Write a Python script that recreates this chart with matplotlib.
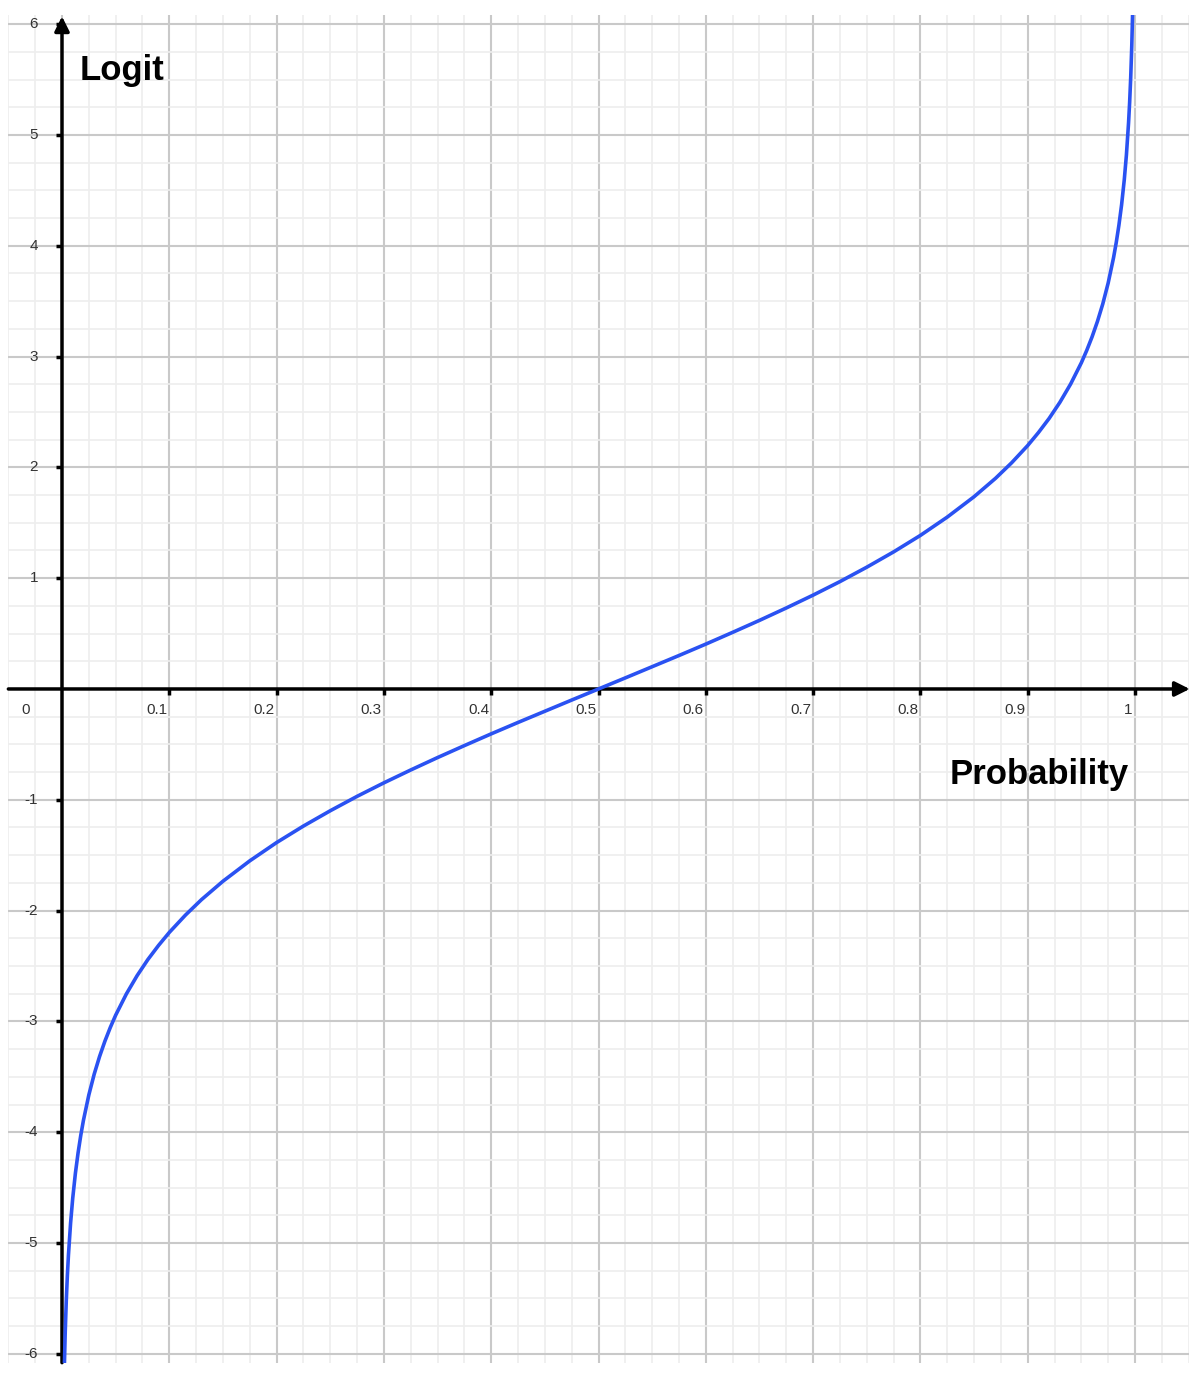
import numpy as np
import matplotlib
matplotlib.use("Agg")
import matplotlib.pyplot as plt
from matplotlib.ticker import MultipleLocator

# points (moitié gauche, la droite est symétrique)
prob_left = [0.0023, 0.003, 0.004, 0.005, 0.006, 0.008, 0.01, 0.0125, 0.015,
             0.0175, 0.02, 0.025, 0.03, 0.035, 0.04, 0.045, 0.05, 0.06, 0.07,
             0.08, 0.09, 0.1, 0.115, 0.13, 0.15, 0.175, 0.2, 0.225, 0.25,
             0.275, 0.3, 0.325, 0.35, 0.375, 0.4, 0.425, 0.45, 0.475, 0.5]
logit_left = [-6.073, -5.806, -5.517, -5.293, -5.110, -4.820, -4.595, -4.369,
              -4.185, -4.028, -3.892, -3.664, -3.476, -3.317, -3.178, -3.055,
              -2.944, -2.752, -2.587, -2.442, -2.314, -2.197, -2.041, -1.901,
              -1.735, -1.551, -1.386, -1.237, -1.099, -0.969, -0.847, -0.731,
              -0.619, -0.511, -0.405, -0.302, -0.201, -0.100, 0.0]

x_ticks = [0.1, 0.2, 0.3, 0.4, 0.5, 0.6, 0.7, 0.8, 0.9, 1.0]
x_labels = ["0.1", "0.2", "0.3", "0.4", "0.5", "0.6", "0.7", "0.8", "0.9", "1"]
y_ticks = [-6, -5, -4, -3, -2, -1, 1, 2, 3, 4, 5, 6]
y_labels = ["-6", "-5", "-4", "-3", "-2", "-1", "1", "2", "3", "4", "5", "6"]

# courbe complète
prob = np.concatenate([prob_left, 1 - np.array(prob_left[-2::-1])])
logit = np.concatenate([logit_left, -np.array(logit_left[-2::-1])])

plt.rcParams['font.family'] = ['Liberation Sans', 'DejaVu Sans']

fig = plt.figure(figsize=(12, 13.8), dpi=100)
ax = fig.add_axes([8.35 / 1200, 0.01254, 1180.3 / 1200, 0.9764])
ax.set_xlim(-0.05, 1.05)
ax.set_ylim(-6.08, 6.08)

# grille
ax.xaxis.set_major_locator(MultipleLocator(0.1))
ax.xaxis.set_minor_locator(MultipleLocator(0.025))
ax.yaxis.set_major_locator(MultipleLocator(1))
ax.yaxis.set_minor_locator(MultipleLocator(0.25))
ax.grid(True, which='minor', color='#eeeeee', lw=1.2)
ax.grid(True, which='major', color='#c9c9c9', lw=1.5)
ax.set_axisbelow(True)
ax.tick_params(which='both', length=0, labelbottom=False, labelleft=False)
for s in ax.spines.values():
    s.set_visible(False)

# axes avec flèches
ax.annotate('', xy=(1.051, 0), xytext=(-0.05, 0), annotation_clip=False,
            arrowprops=dict(arrowstyle='-|>', lw=2.5, color='black',
                            mutation_scale=22, shrinkA=0, shrinkB=0))
ax.annotate('', xy=(0, 6.07), xytext=(0, -6.08), annotation_clip=False,
            arrowprops=dict(arrowstyle='-|>', lw=2.5, color='black',
                            mutation_scale=22, shrinkA=0, shrinkB=0))

# petites graduations
ax.plot(x_ticks, np.zeros(len(x_ticks)), ls='none', marker=[(0, 0), (0, -1)],
        ms=8, mec='black', mew=2.5)
ax.plot(np.zeros(len(y_ticks)), y_ticks, ls='none', marker=[(0, 0), (-1, 0)],
        ms=8, mec='black', mew=2.5)

# courbe logit
ax.plot(prob, logit, color='#2a52f2', lw=2.6, zorder=5, clip_on=True)

# étiquettes
for xt, lab in zip(x_ticks, x_labels):
    ax.text(xt - 0.002, -0.19, lab, ha='right', va='center', fontsize=11,
            color='#333333')
ax.text(-0.034, -0.19, "0", ha='center', va='center', fontsize=11,
        color='#333333')
for yt, lab in zip(y_ticks, y_labels):
    ax.text(-0.0224, yt, lab, ha='right', va='center', fontsize=11,
            color='#333333')

ax.text(0.0168, 5.50, "Logit", ha='left', va='baseline', fontsize=25,
        fontweight='bold')
ax.text(0.8276, -0.857, "Probability", ha='left', va='baseline', fontsize=25,
        fontweight='bold')

fig.savefig("out.png", dpi=100)
